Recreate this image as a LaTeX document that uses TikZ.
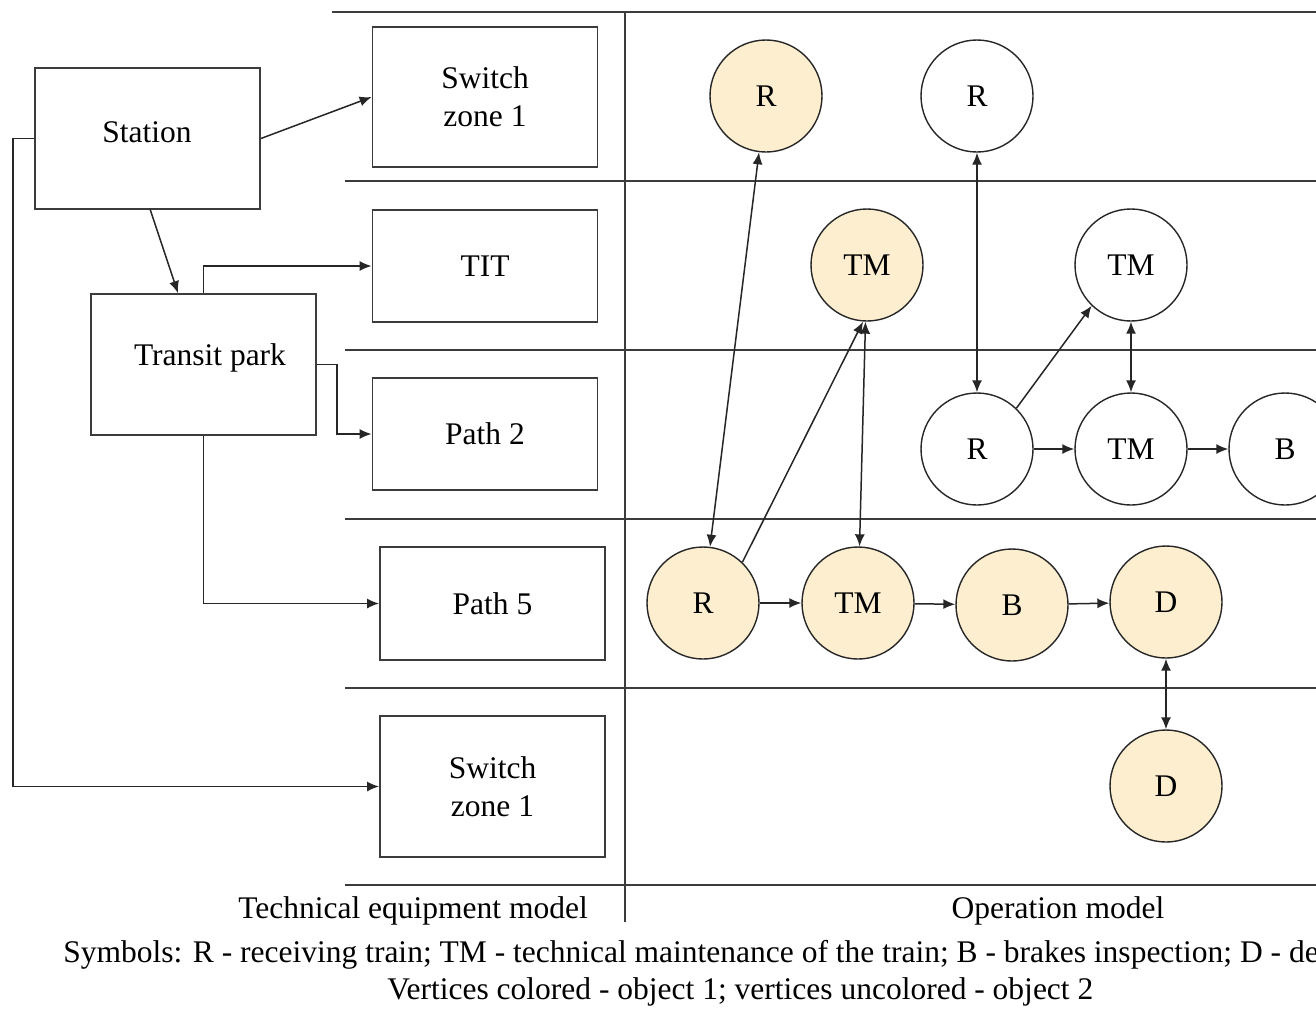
\documentclass[tikz,border=0pt]{standalone}
\usepackage{fontspec}
\setmainfont{Liberation Serif}
\usetikzlibrary{arrows.meta,calc}
\definecolor{vfill}{RGB}{253,238,208}
\definecolor{lgray}{RGB}{60,60,60}
\begin{document}
\begin{tikzpicture}[x=0.5pt,y=-0.5pt,
  every node/.style={font=\fontsize{15.75}{19}\selectfont},
  boxnode/.style={draw=lgray,line width=0.9pt,rectangle,inner sep=0pt,minimum width=112.5pt,align=center},
  vert/.style={draw=black!85,line width=0.7pt,circle,inner sep=0pt,minimum size=56pt},
  vcol/.style={vert,fill=vfill},
  vwhite/.style={vert,fill=white},
  conn/.style={draw=black!85,line width=0.75pt,-{Latex[length=6pt,width=5pt]}},
  dconn/.style={draw=black!85,line width=0.75pt,{Latex[length=6pt,width=5pt]}-{Latex[length=6pt,width=5pt]}},
  grid/.style={draw=lgray,line width=1pt}]
\useasboundingbox (0,0) rectangle (1316,1008);
\clip (0,0) rectangle (1316,1008);
% lanes
\draw[grid] (332,12) -- (1316,12);
\draw[grid] (345,181) -- (1316,181);
\draw[grid] (345,350) -- (1316,350);
\draw[grid] (345,519) -- (1316,519);
\draw[grid] (345,688) -- (1316,688);
\draw[grid] (345,885) -- (1316,885);
\draw[grid] (625,12) -- (625,922);
% boxes
\node[boxnode,minimum height=70pt] (sz1) at (485,97) {Switch\\zone 1};
\node[boxnode,minimum height=56pt] (tit) at (485,266) {TIT};
\node[boxnode,minimum height=56pt] (p2) at (485,434) {Path 2};
\node[boxnode,minimum height=56.5pt] (p5) at (492.5,603.5) {Path 5};
\node[boxnode,minimum height=70.5pt] (sz2) at (492.5,786.5) {Switch\\zone 1};
\node[boxnode,minimum height=70.5pt] (st) at (147.5,138.5) {};
\node (stl) at (147,132) {Station};
\node[boxnode,minimum height=70.5pt] (tp) at (203.5,364.5) {};
\node (tpl) at (210,358) {Transit park};
% left connectors
\draw[conn] (st.east) -- (sz1.west);
\draw[conn] (150,209) -- ([xshift=-12.75pt]tp.north);
\draw[conn] (tp.north) |- (tit.west);
\draw[conn] (tp.east) -- ++(10pt,0) |- (p2.west);
\draw[conn] (tp.south) |- (p5.west);
\draw[conn] (st.west) -- ++(-10.5pt,0) |- (sz2.west);
% vertices
\node[vcol] (cR1) at (766,96) {R};
\node[vwhite] (wR1) at (977,96) {R};
\node[vcol] (cTM1) at (867,265) {TM};
\node[vwhite] (wTM1) at (1131,265) {TM};
\node[vwhite] (wR2) at (977,449) {R};
\node[vwhite] (wTM2) at (1131,449) {TM};
\node[vwhite] (wB) at (1285,449) {B};
\node[vcol] (cR2) at (703,603) {R};
\node[vcol] (cTM2) at (858,603) {TM};
\node[vcol] (cB) at (1012,605) {B};
\node[vcol] (cD1) at (1166,602) {D};
\node[vcol] (cD2) at (1166,786) {D};
% vertex connectors
\draw[dconn] (cR2) -- (cR1);
\draw[dconn] (cTM1) -- (cTM2);
\draw[conn] (cR2.46) -- (cTM1.266);
\draw[dconn] (wR1) -- (wR2);
\draw[conn] (wR2.46) -- (wTM1.226);
\draw[dconn] (wTM1) -- (wTM2);
\draw[conn] (wR2) -- (wTM2);
\draw[conn] (wTM2) -- (wB);
\draw[conn] (cR2) -- (cTM2);
\draw[conn] (cTM2) -- (cB);
\draw[conn] (cB) -- (cD1);
\draw[dconn] (cD1) -- (cD2);
% captions
\node (tem) at (413,911) {Technical equipment model};
\node (om) at (1058,911) {Operation model};
\node[anchor=west,inner sep=0pt] (sym) at (63,955) {Symbols: R - receiving train; TM - technical maintenance of the train; B - brakes inspection; D - departure};
\node[anchor=west,inner sep=0pt] (vc) at (387,992) {Vertices colored - object 1; vertices uncolored - object 2};
\end{tikzpicture}
\end{document}
